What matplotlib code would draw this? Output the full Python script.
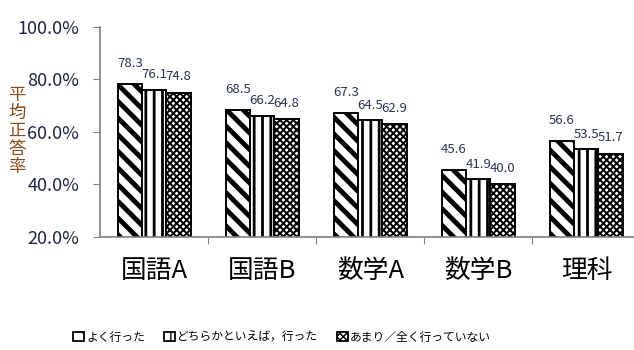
import matplotlib
matplotlib.use('Agg')
import matplotlib.pyplot as plt
from matplotlib.patches import Rectangle
import numpy as np

plt.rcParams['font.family'] = ['Noto Sans CJK JP', 'DejaVu Sans']

subjects = ['国語A', '国語B', '数学A', '数学B', '理科']
series_names = ['よく行った', 'どちらかといえば，行った', 'あまり／全く行っていない']
often = [78.3, 68.5, 67.3, 45.6, 56.6]
somewhat = [76.1, 66.2, 64.5, 41.9, 53.5]
rarely = [74.8, 64.8, 62.9, 40.0, 51.7]
yticks = [20, 40, 60, 80, 100]

hatches = ['\\\\', '||', 'xxxxx']
hatch_lw = [3.5, 2.0, 1.4]
label_gap = [10, 6, 7]   # points between bar top and its value label

fig = plt.figure(figsize=(6.34, 3.5), dpi=100)
ax = fig.add_axes([0.158, 0.323, 0.852, 0.60])

x = np.arange(len(subjects))
w = 0.225
for i, vals in enumerate([often, somewhat, rarely]):
    bars = ax.bar(x + (i - 1) * w, vals, w, bottom=0, color='white',
                  edgecolor='black', linewidth=1.4, hatch=hatches[i])
    for b, v in zip(bars, vals):
        if hasattr(b, 'set_hatch_linewidth'):
            b.set_hatch_linewidth(hatch_lw[i])
        ax.annotate(f'{v:.1f}', (b.get_x() + b.get_width() / 2, v),
                    xytext=(0, label_gap[i]), textcoords='offset points',
                    ha='center', va='bottom', fontsize=9.5, color='#2a3550')

ax.set_ylim(20, 100)
ax.set_xlim(-0.5, len(subjects) - 0.5)
ax.set_yticks(yticks)
ax.set_yticklabels([f'{t:.1f}%' for t in yticks], fontsize=13, color='#1f2540')

ax.set_xticks(x[:-1] + 0.5)
ax.set_xticklabels([])
ax.set_xticks(x, minor=True)
ax.set_xticklabels(subjects, minor=True, fontsize=18.5)
ax.tick_params(axis='x', which='major', direction='out', length=5, color='#808080')
ax.tick_params(axis='x', which='minor', length=0, pad=15)
ax.tick_params(axis='y', direction='out', length=5, color='#808080', pad=10)

for s in ['top', 'right']:
    ax.spines[s].set_visible(False)
for s in ['left', 'bottom']:
    ax.spines[s].set_color('#808080')
    ax.spines[s].set_linewidth(1.2)

fig.text(0.027, 0.625, '\n'.join('平均正答率'), ha='center', va='center',
         fontsize=12.5, color='#8a4a1a', linespacing=1.0)

handles = [Rectangle((0, 0), 1, 1, facecolor='white', edgecolor='black',
                     linewidth=1.3, hatch=h) for h in hatches]
fig.legend(handles, series_names, loc='lower center', bbox_to_anchor=(0.445, -0.012),
           ncol=3, frameon=False, fontsize=8.5, handlelength=0.9, handleheight=0.9,
           handletextpad=0.2, columnspacing=1.6)

fig.savefig('out.png', dpi=100)
